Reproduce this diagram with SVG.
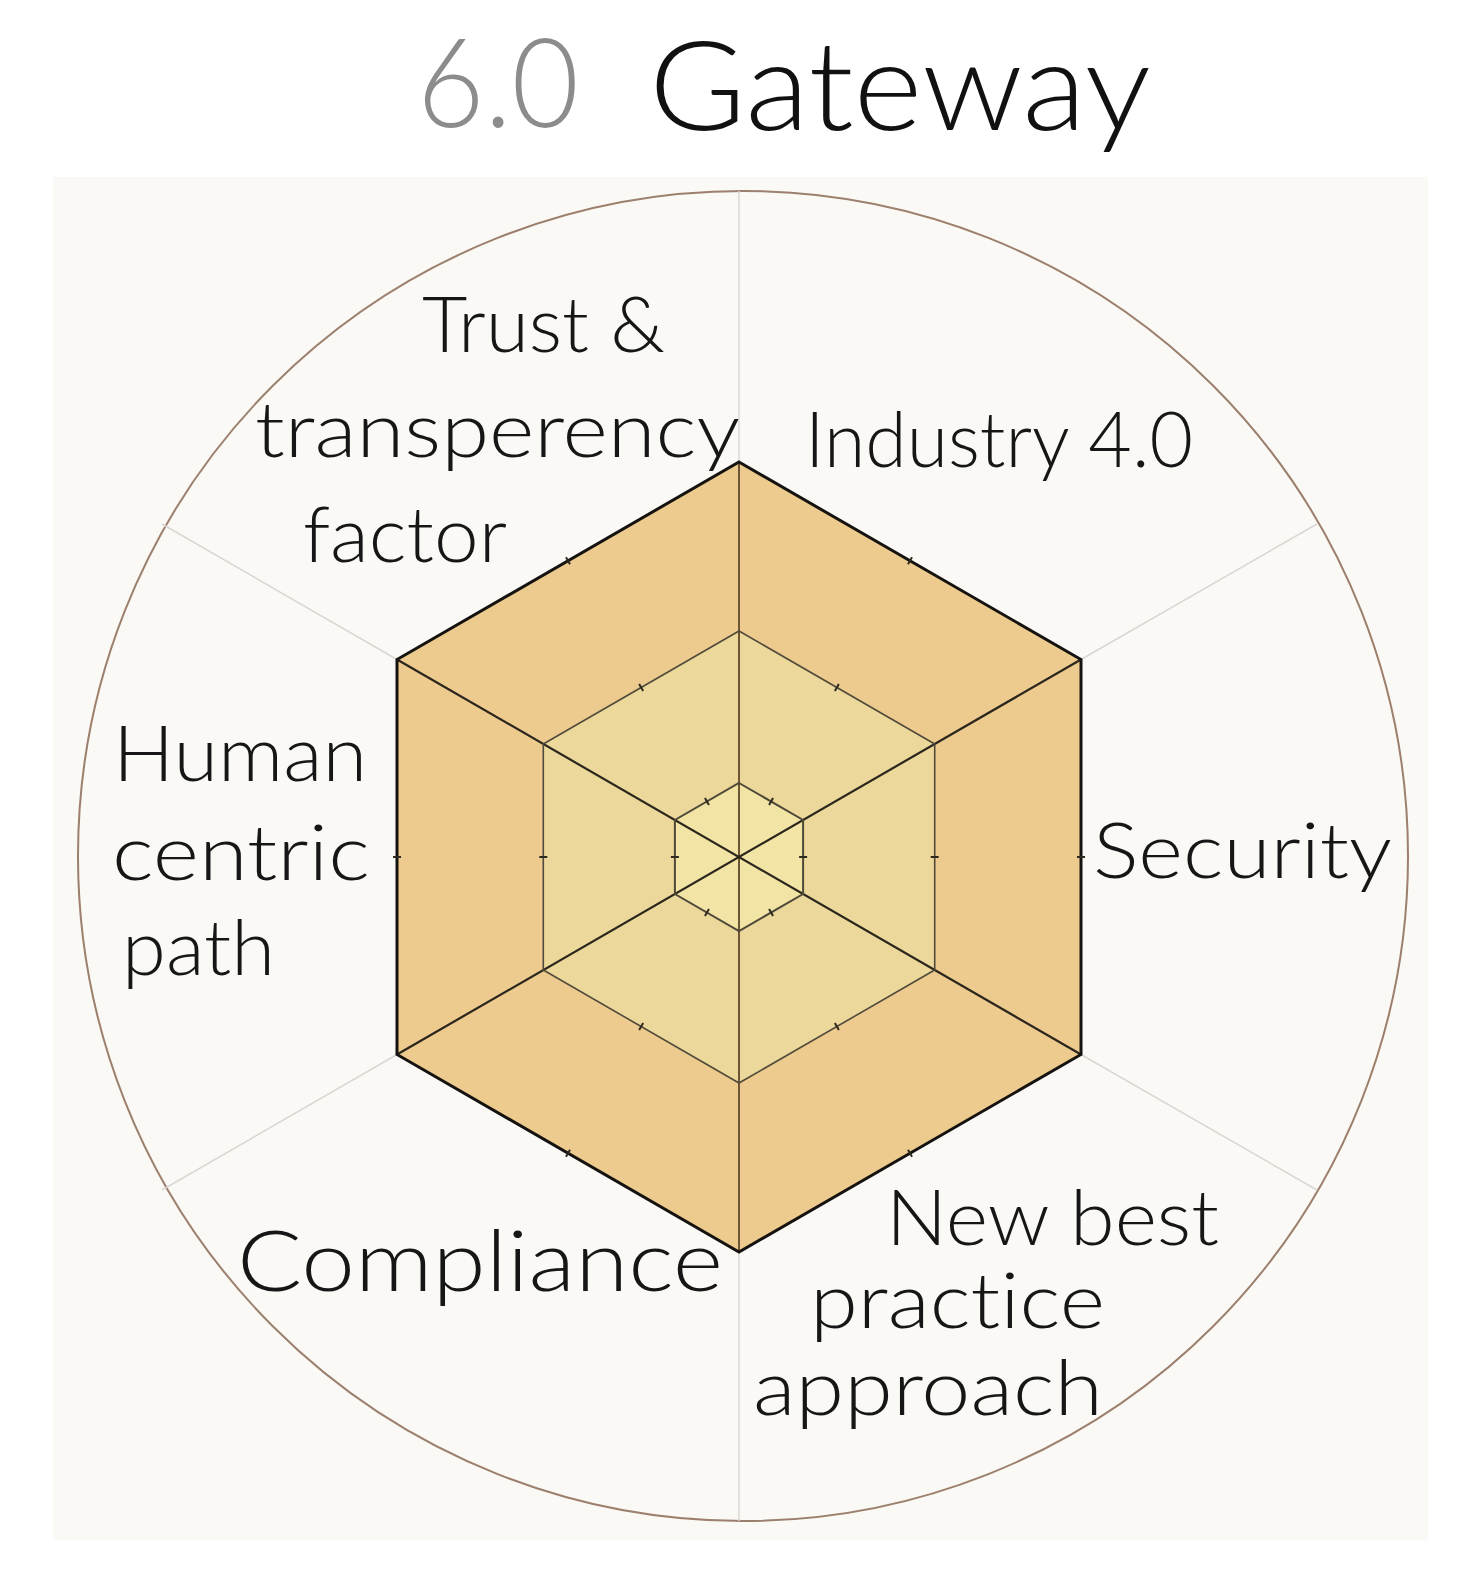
<svg xmlns="http://www.w3.org/2000/svg" xmlns:xlink="http://www.w3.org/1999/xlink" width="1474" height="1589" viewBox="0 0 1474 1589">
<style>
  .lbl { font-family: "Lato", "Liberation Sans", sans-serif; font-weight: 300; fill: #161616; font-size: 76px; font-variant-ligatures: none; }
  .ttl { font-family: "Lato", "Liberation Sans", sans-serif; font-weight: 300; font-size: 125px; font-variant-ligatures: none; }
  .grid { stroke: #d9d7d3; stroke-width: 1.5; fill: none; }
  .spoke { stroke: #2a261c; stroke-width: 2.2; fill: none; }
  .tick { stroke: #2e2a20; stroke-width: 2; }
</style>
<defs>
  <path id="t" d="M-4,0 H4"/>
</defs>
<rect width="1474" height="1589" fill="#ffffff"/>
<g id="title">
  <text class="ttl" x="417" y="127" fill="#8c8c8c" textLength="162" lengthAdjust="spacingAndGlyphs">6.0</text>
  <text class="ttl" x="649" y="130" fill="#111111" textLength="502" lengthAdjust="spacingAndGlyphs">Gateway</text>
</g>
<g id="panel">
  <rect x="53" y="177" width="1375" height="1363" fill="#faf9f5"/>
  <circle cx="743" cy="856" r="665" fill="none" stroke="#9c7f6c" stroke-width="2"/>
</g>
<g id="connectors">
  <line class="grid" x1="739" y1="462" x2="739" y2="191"/>
  <line class="grid" x1="739" y1="1252" x2="739" y2="1521"/>
  <line class="grid" x1="1081" y1="659.5" x2="1317" y2="524"/>
  <line class="grid" x1="1081" y1="1054.5" x2="1317" y2="1190"/>
  <line class="grid" x1="397" y1="659.5" x2="162" y2="524"/>
  <line class="grid" x1="397" y1="1054.5" x2="162" y2="1190"/>
</g>
<g id="hexagons" transform="translate(739,857)">
  <polygon id="outer-hex" points="0,-395 342,-197.5 342,197.5 0,395 -342,197.5 -342,-197.5" fill="#edca8e"/>
  <polygon id="middle-hex" points="0,-226 195.7,-113 195.7,113 0,226 -195.7,113 -195.7,-113" fill="#ecd89b"/>
  <polygon id="inner-hex" points="0,-74 64.1,-37 64.1,37 0,74 -64.1,37 -64.1,-37" fill="#f1e4a5"/>
  <g id="spokes">
    <line x1="0" y1="-395" x2="0" y2="395" stroke="#6e5535" stroke-width="2"/>
    <line class="spoke" x1="342" y1="-197.5" x2="-342" y2="197.5"/>
    <line class="spoke" x1="-342" y1="-197.5" x2="342" y2="197.5"/>
  </g>
  <polygon points="0,-226 195.7,-113 195.7,113 0,226 -195.7,113 -195.7,-113" fill="none" stroke="#4f4a3a" stroke-width="1.6"/>
  <polygon points="0,-74 64.1,-37 64.1,37 0,74 -64.1,37 -64.1,-37" fill="none" stroke="#4e4838" stroke-width="2"/>
  <polygon points="0,-395 342,-197.5 342,197.5 0,395 -342,197.5 -342,-197.5" fill="none" stroke="#151310" stroke-width="3" stroke-linejoin="miter"/>
  <g id="ticks" class="tick">
    <use xlink:href="#t" transform="rotate(0) translate(64.1,0)"/>
    <use xlink:href="#t" transform="rotate(60) translate(64.1,0)"/>
    <use xlink:href="#t" transform="rotate(120) translate(64.1,0)"/>
    <use xlink:href="#t" transform="rotate(180) translate(64.1,0)"/>
    <use xlink:href="#t" transform="rotate(240) translate(64.1,0)"/>
    <use xlink:href="#t" transform="rotate(300) translate(64.1,0)"/>
    <use xlink:href="#t" transform="rotate(0) translate(195.7,0)"/>
    <use xlink:href="#t" transform="rotate(60) translate(195.7,0)"/>
    <use xlink:href="#t" transform="rotate(120) translate(195.7,0)"/>
    <use xlink:href="#t" transform="rotate(180) translate(195.7,0)"/>
    <use xlink:href="#t" transform="rotate(240) translate(195.7,0)"/>
    <use xlink:href="#t" transform="rotate(300) translate(195.7,0)"/>
    <use xlink:href="#t" transform="rotate(0) translate(342,0)"/>
    <use xlink:href="#t" transform="rotate(60) translate(342,0)"/>
    <use xlink:href="#t" transform="rotate(120) translate(342,0)"/>
    <use xlink:href="#t" transform="rotate(180) translate(342,0)"/>
    <use xlink:href="#t" transform="rotate(240) translate(342,0)"/>
    <use xlink:href="#t" transform="rotate(300) translate(342,0)"/>
  </g>
</g>
<g id="label-trust">
  <text class="lbl" x="422" y="352" textLength="243" lengthAdjust="spacingAndGlyphs">Trust &amp;</text>
  <text class="lbl" x="255" y="457" textLength="485" lengthAdjust="spacingAndGlyphs">transperency</text>
  <text class="lbl" x="303" y="562" textLength="204" lengthAdjust="spacingAndGlyphs">factor</text>
</g>
<g id="label-industry">
  <text class="lbl" x="805" y="467" textLength="388" lengthAdjust="spacingAndGlyphs">Industry 4.0</text>
</g>
<g id="label-human">
  <text class="lbl" x="113" y="781" textLength="254" lengthAdjust="spacingAndGlyphs">Human</text>
  <text class="lbl" x="112" y="880" textLength="258" lengthAdjust="spacingAndGlyphs">centric</text>
  <text class="lbl" x="122" y="975" textLength="153" lengthAdjust="spacingAndGlyphs">path</text>
</g>
<g id="label-security">
  <text class="lbl" x="1093" y="878" textLength="299" lengthAdjust="spacingAndGlyphs">Security</text>
</g>
<g id="label-compliance">
  <text class="lbl" x="237" y="1291" style="font-size:85px" textLength="486" lengthAdjust="spacingAndGlyphs">Compliance</text>
</g>
<g id="label-newbest">
  <text class="lbl" x="886" y="1245" textLength="333" lengthAdjust="spacingAndGlyphs">New best</text>
  <text class="lbl" x="810" y="1328" textLength="295" lengthAdjust="spacingAndGlyphs">practice</text>
  <text class="lbl" x="753" y="1415" textLength="350" lengthAdjust="spacingAndGlyphs">approach</text>
</g>
</svg>
